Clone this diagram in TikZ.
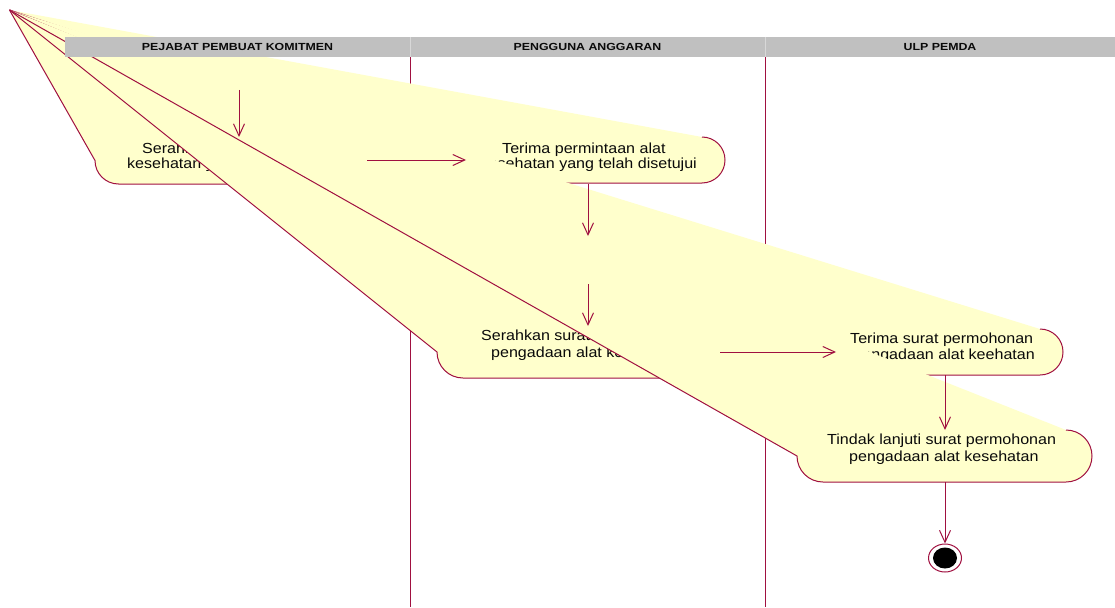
\documentclass[tikz,border=0pt]{standalone}
\usepackage{fontspec}
\setmainfont{Liberation Sans}
\newfontfamily\actfont{Liberation Sans}[FakeStretch=1.1]
\newfontfamily\lanefont{Liberation Sans}[FakeStretch=1.2, BoldFeatures={FakeStretch=1.2}]
\usetikzlibrary{arrows.meta,shapes.geometric}

\definecolor{roseline}{RGB}{160,16,64}
\definecolor{rosefill}{RGB}{255,255,204}
\definecolor{lanegray}{RGB}{192,192,192}
\definecolor{lanesep}{RGB}{216,216,216}
\definecolor{inktext}{RGB}{10,10,10}

% activity shape: x0, top, bottom, x1; its top-left corner is pulled to (apex)
\newcommand{\actshape}[4]{%
  \pgfmathsetmacro\shR{(#3-#2)/2}%
  \pgfmathsetmacro\shM{(#2+#3)/2}%
  \pgfmathsetmacro\shK{0.5523*\shR}%
  \path[actfill] (apex) -- (#1,\shM)
    .. controls (#1,\shM+\shK) and (#1+\shR-\shK,#3) .. (#1+\shR,#3)
    -- (#4-\shR,#3)
    .. controls (#4-\shR+\shK,#3) and (#4,\shM+\shK) .. (#4,\shM)
    .. controls (#4,\shM-\shK) and (#4-\shR+\shK,#2) .. (#4-\shR,#2) -- cycle;
  \draw[actline] (apex) -- (#1,\shM)
    .. controls (#1,\shM+\shK) and (#1+\shR-\shK,#3) .. (#1+\shR,#3)
    -- (#4-\shR,#3)
    .. controls (#4-\shR+\shK,#3) and (#4,\shM+\shK) .. (#4,\shM)
    .. controls (#4,\shM-\shK) and (#4-\shR+\shK,#2) .. (#4-\shR,#2);
}

\begin{document}
\begin{tikzpicture}[x=1pt,y=-1pt,
  actfill/.style={fill=rosefill},
  actline/.style={draw=roseline, line width=1pt, line join=round},
  flow/.style={draw=roseline, line width=1pt,
    -{Straight Barb[length=12pt,width=11pt,line width=1pt]}},
  lbl/.style={font=\actfont\fontsize{14.6}{17}\selectfont, text=inktext, inner sep=0pt},
  lanehead/.style={font=\lanefont\bfseries\fontsize{10.3}{12}\selectfont, text=inktext, inner sep=0pt, anchor=base},
  laneline/.style={draw=roseline, line width=1.8pt}]

\useasboundingbox[fill=white] (0,0) rectangle (1115,607);
\coordinate (apex) at (9.5,10);

% swimlane separators
\draw[laneline] (410.5,57) -- (410.5,607);
\draw[laneline] (765.5,57) -- (765.5,607);

% activities
\actshape{95}{137}{184}{365}
\node[lbl, anchor=base west] (s1a) at (142,153) {Serahkan};
\node[lbl, anchor=base west] (s1b) at (127,168) {kesehatan yang};

\actshape{466}{137}{183}{725}
\node[lbl, anchor=base west] (s2a) at (502,153) {Terima permintaan alat};
\node[lbl, anchor=base east] (s2b) at (697,168) {kesehatan yang telah disetujui};

\actshape{437}{326}{378}{718}
\node[lbl, anchor=base west] (s3a) at (481,340) {Serahkan surat};
\node[lbl, anchor=base west] (s3b) at (491,357) {pengadaan alat ke};

\actshape{836}{329}{375}{1063}
\node[lbl, anchor=base west] (s4a) at (850,343) {Terima surat permohonan};
\node[lbl, anchor=base east] (s4b) at (1035,359) {pengadaan alat keehatan};

\actshape{797}{430}{482}{1092}
\node[lbl, anchor=base west] (s5a) at (827,444) {Tindak lanjuti surat permohonan};
\node[lbl, anchor=base west] (s5b) at (849,461) {pengadaan alat kesehatan};

% swimlane header
\fill[lanegray] (65,37) rectangle (1115,57);
\draw[lanesep, line width=1pt] (410.5,37) -- (410.5,57);
\draw[lanesep, line width=1pt] (765.5,37) -- (765.5,57);
\node[lanehead] (ppk) at (237.5,51) {PEJABAT PEMBUAT KOMITMEN};
\node[lanehead] (pa) at (587.5,51) {PENGGUNA ANGGARAN};
\node[lanehead] (ulp) at (940,51) {ULP PEMDA};

% final state
\node[ellipse, draw=roseline, line width=1pt, fill=white, minimum width=33pt, minimum height=28pt, inner sep=0pt] (final) at (945,558) {};
\node[ellipse, fill=black, minimum width=24pt, minimum height=21pt, inner sep=0pt] (finalcore) at (final.center) {};

% transitions
\coordinate (in1) at (239,90);   \coordinate (s1top) at (239,137);
\coordinate (s1out) at (367,160); \coordinate (s2in) at (466,160);
\coordinate (s2out) at (588,184); \coordinate (j1) at (588,236);
\coordinate (j2) at (588,284);    \coordinate (s3top) at (588,326);
\coordinate (s3out) at (720,352); \coordinate (s4in) at (836,352);
\coordinate (s4out) at (945,375); \coordinate (s5top) at (945,430);
\coordinate (s5out) at (945,482);

\draw[flow] (in1) -- (s1top);
\draw[flow] (s1out) -- (s2in);
\draw[flow] (s2out) -- (j1);
\draw[flow] (j2) -- (s3top);
\draw[flow] (s3out) -- (s4in);
\draw[flow] (s4out) -- (s5top);
\draw[flow] (s5out) -- (final.north);
\end{tikzpicture}
\end{document}
